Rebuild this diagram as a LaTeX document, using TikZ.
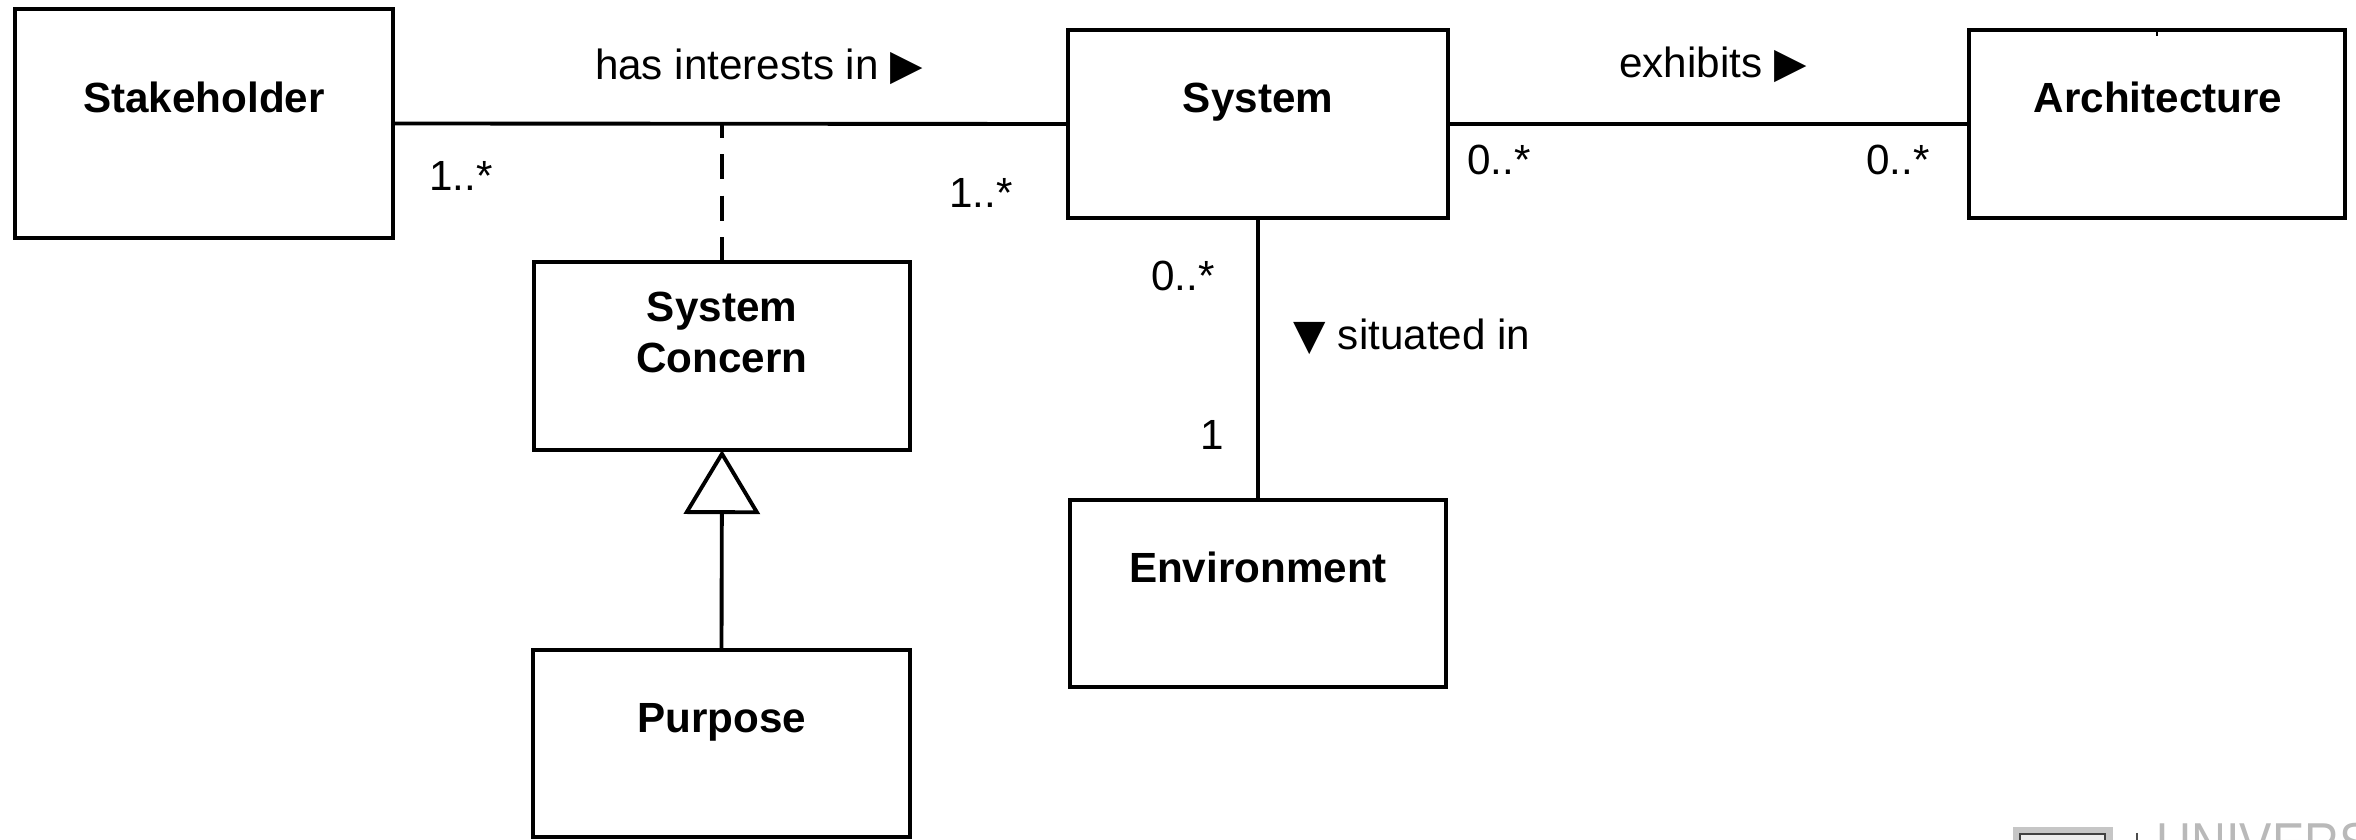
\documentclass[tikz,border=0pt]{standalone}
\usepackage{fontspec}
\setmainfont{Liberation Sans}
\newfontfamily\symfont{DejaVu Sans}
\usetikzlibrary{arrows.meta}
\begin{document}
\begin{tikzpicture}[x=0.01cm,y=-0.01cm,
  umlbox/.style={draw, line width=1.15pt, inner sep=0pt, outer sep=0pt, fill=white},
  cname/.style={font=\fontsize{12}{14.5}\selectfont\bfseries, inner sep=0pt, text height=0.72em, text depth=0pt},
  cname2/.style={font=\fontsize{12}{14.5}\selectfont\bfseries, inner sep=0pt, align=center},
  lbl/.style={font=\fontsize{12}{14.5}\selectfont, inner sep=0pt, text height=0.72em, text depth=0pt},
  assoc/.style={line width=1.1pt},
  dep/.style={line width=1.2pt, dash pattern=on 0.25cm off 0.165cm, dash phase=0.11cm},
  gen/.style={line width=1.1pt, -{Triangle[open, length=0.64cm, width=0.76cm, line width=1.1pt]}}
]
\useasboundingbox (0,0) rectangle (2356,840);
\begin{scope}
\clip (0,0) rectangle (2356,840);
% boxes
\node[umlbox, minimum width=3.78cm, minimum height=2.29cm] (stake) at (204,123.5) {};
\node[umlbox, minimum width=3.80cm, minimum height=1.88cm] (sys) at (1258,124) {};
\node[umlbox, minimum width=3.76cm, minimum height=1.88cm] (arch) at (2157,124) {};
\node[umlbox, minimum width=3.76cm, minimum height=1.88cm] (conc) at (722,356) {};
\node[umlbox, minimum width=3.77cm, minimum height=1.87cm] (purp) at (721.5,743.5) {};
\node[umlbox, minimum width=3.76cm, minimum height=1.87cm] (env) at (1258,593.5) {};
% names
\node[cname] (stake-t) at (204,100) {Stakeholder};
\node[cname] (sys-t) at (1258,100) {System};
\node[cname] (arch-t) at (2158,100) {Architecture};
\node[cname2] (conc-t) at (722,332) {System\\Concern};
\node[cname] (purp-t) at (722,720) {Purpose};
\node[cname] (env-t) at (1258,570) {Environment};
% connectors
\draw[assoc] (stake.east) -- (sys.west);
\coordinate (dj) at (stake.east -| conc.north);
\draw[dep] (dj) -- (conc.north);
\draw[assoc] (sys.east) -- (arch.west);
\draw[assoc] (sys.south) -- (env.north);
\draw[gen] (purp.north) -- (conc.south);
\coordinate (tick) at ([yshift=-0.06cm]arch.north);
\draw[line width=0.8pt] (arch.north) -- (tick);
% labels
\node[lbl] (l-has) at (759,67) {has interests in {\symfont ▶}};
\node[lbl] (l-exh) at (1713,65) {exhibits {\symfont ▶}};
\node[lbl] (m1) at (461,178) {1..*};
\node[lbl] (m2) at (981,195) {1..*};
\node[lbl] (m3) at (1499,162) {0..*};
\node[lbl] (m4) at (1898,162) {0..*};
\node[lbl] (m5) at (1183,278) {0..*};
\node[lbl] (m6) at (1212,437) {1};
\node[lbl] (l-sit) at (1412,337) {{\symfont ▼} situated in};
% watermark fragment
\fill[gray!45] (2013,827) rectangle (2113,850);
\filldraw[draw=black!75, fill=gray!15, line width=0.6pt] (2020,834) rectangle (2105,850);
\draw[black!70, line width=0.6pt] (2137,833) -- (2137,850);
\node[anchor=north west, text=gray!55, inner sep=0pt, font=\fontsize{16}{16}\selectfont, xscale=0.86] (wm) at (2156,823) {UNIVERS};
\end{scope}
\end{tikzpicture}
\end{document}
